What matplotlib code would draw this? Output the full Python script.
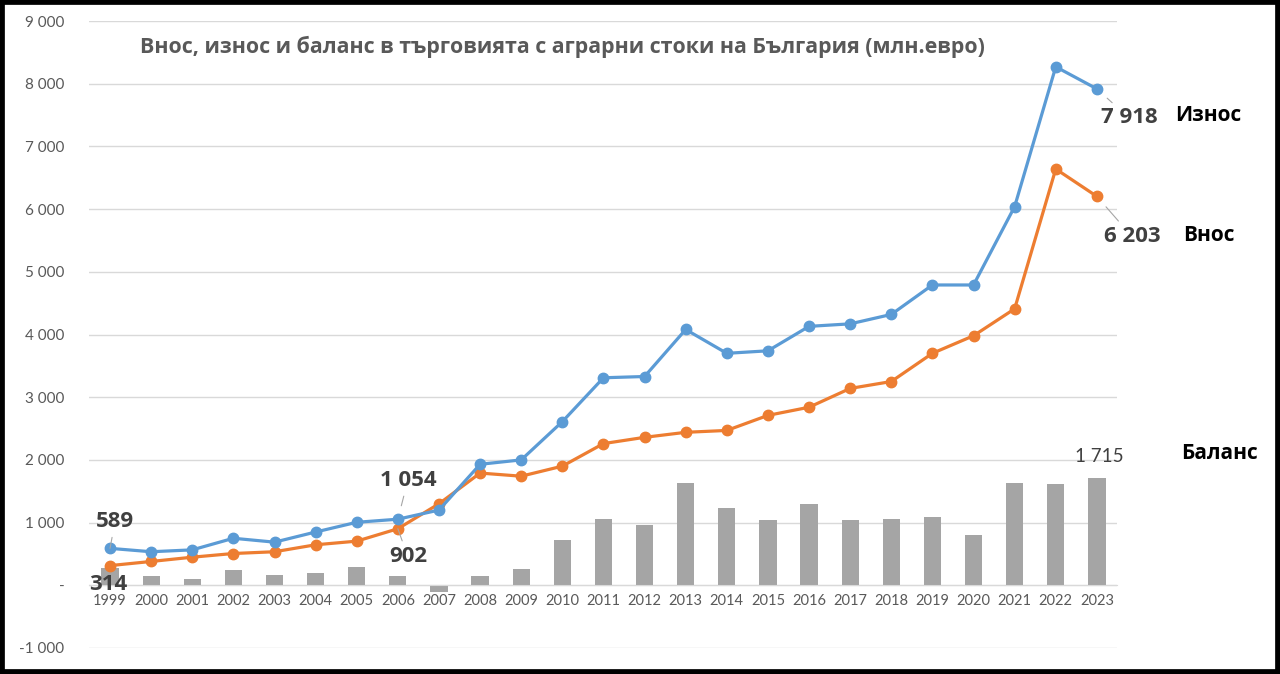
import matplotlib.pyplot as plt
import matplotlib.ticker as mticker
from matplotlib.patches import Rectangle

plt.rcParams['font.family'] = ['Lato', 'DejaVu Sans']
BOLD_FONT = ['Open Sans', 'DejaVu Sans']

years = [str(y) for y in range(1999, 2024)]
export_vals = [589, 535, 565, 750, 688, 850, 1005, 1054, 1200, 1930, 2000, 2610,
               3310, 3330, 4080, 3700, 3740, 4130, 4170, 4320, 4790, 4790, 6040, 8270, 7918]
import_vals = [314, 380, 448, 507, 535, 646, 704, 902, 1300, 1790, 1740, 1900,
               2260, 2360, 2440, 2470, 2710, 2840, 3140, 3250, 3700, 3980, 4410, 6640, 6203]
balance_vals = [282, 144, 101, 250, 160, 202, 287, 144, -112, 144, 261, 720,
                1051, 960, 1637, 1237, 1035, 1296, 1035, 1061, 1093, 795, 1627, 1611, 1715]

BLUE = '#5B9BD5'
ORANGE = '#ED7D31'
GRAY = '#A5A5A5'
TXT = '#595959'
LBL = '#404040'

fig = plt.figure(figsize=(12.8, 6.74), dpi=100)
ax = fig.add_axes([0.0699, 0.0386, 0.8031, 0.9302])

x = list(range(len(years)))
ax.bar(x, balance_vals, width=0.42, color=GRAY, zorder=2)
ax.plot(x, export_vals, color=BLUE, lw=2.3, marker='o', ms=7.5, zorder=4)
ax.plot(x, import_vals, color=ORANGE, lw=2.3, marker='o', ms=7.5, zorder=3)

ax.set_xlim(-0.5, len(years) - 0.5)
ax.set_ylim(-1000, 9000)
ax.set_yticks(range(-1000, 9001, 1000))
ax.yaxis.set_major_formatter(mticker.FuncFormatter(
    lambda v, p: '-' if v == 0 else f'{int(v):,}'.replace(',', ' ')))
ax.set_xticks(x)
ax.set_xticklabels(years)
ax.tick_params(axis='both', length=0, colors=TXT, labelsize=10.5)
ax.tick_params(axis='y', pad=18, labelsize=11)
ax.tick_params(axis='x', pad=6)
ax.grid(axis='y', color='#D9D9D9', lw=1, zorder=0)
for s in ['top', 'right', 'left']:
    ax.spines[s].set_visible(False)
ax.spines['bottom'].set_position(('data', 0))
ax.spines['bottom'].set_color('#D9D9D9')

fig.text(0.109, 0.93, 'Внос, износ и баланс в търговията с аграрни стоки на България (млн.евро)',
         fontsize=15.4, fontweight='bold', family=BOLD_FONT, color=TXT, va='center', ha='left')


def label(i, vals, text, dx, dy, size=16, bold=True, line=True):
    ax.annotate(text, xy=(i, vals[i]), xytext=(dx, dy), textcoords='offset pixels',
                ha='center', va='center', fontsize=size,
                fontweight='bold' if bold else 'normal',
                family=BOLD_FONT if bold else None, color=LBL,
                arrowprops=dict(arrowstyle='-', color='#A6A6A6', lw=0.8, shrinkA=2, shrinkB=10)
                if line else None, zorder=5)


label(0, export_vals, '589', 5, 27)
label(0, import_vals, '314', -2, -19, line=False)
label(7, export_vals, '1 054', 10, 39)
label(7, import_vals, '902', 10, -28)
label(24, export_vals, '7 918', 32, -29)
label(24, import_vals, '6 203', 35, -40)
label(24, balance_vals, '1 715', 2, 21, size=13.5, bold=False, line=False)

fig.text(0.918, 0.829, 'Износ', fontsize=15, fontweight='bold', family=BOLD_FONT, color='black', va='center')
fig.text(0.924, 0.651, 'Внос', fontsize=15, fontweight='bold', family=BOLD_FONT, color='black', va='center')
fig.text(0.923, 0.327, 'Баланс', fontsize=15, fontweight='bold', family=BOLD_FONT, color='black', va='center')

fig.patches.append(Rectangle((0, 0), 1, 1, transform=fig.transFigure, fill=False,
                             edgecolor='black', lw=7, zorder=10))

fig.savefig('out.png', dpi=100)
